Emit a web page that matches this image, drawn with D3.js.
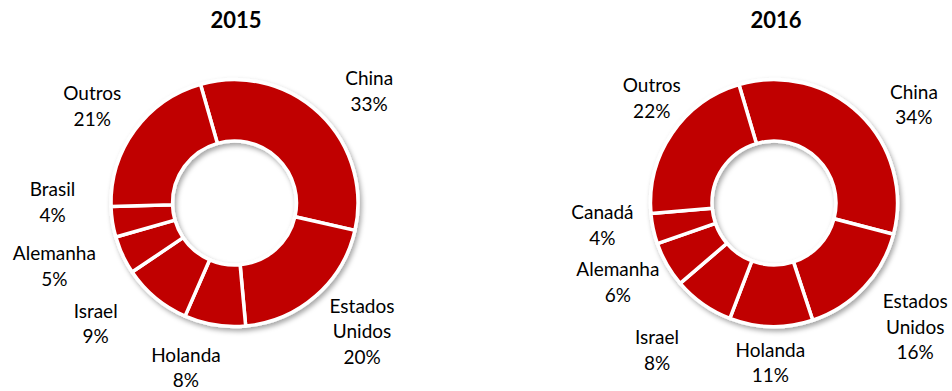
<!DOCTYPE html>
<html>
<head>
<meta charset="utf-8">
<script src="https://cdn.jsdelivr.net/npm/d3@7"></script>
<style>
  body { margin: 0; background: #fff; }
  svg { display: block; font-family: Lato, "Noto Sans", sans-serif; }
</style>
</head>
<body>
<svg id="chart" width="952" height="391"></svg>
<script>
// data
var years = ["2015", "2016"];
var categories2015 = ["China", "Estados Unidos", "Holanda", "Israel", "Alemanha", "Brasil", "Outros"];
var values2015 = [33, 20, 8, 9, 5, 4, 21];
var categories2016 = ["China", "Estados Unidos", "Holanda", "Israel", "Alemanha", "Canadá", "Outros"];
var values2016 = [34, 16, 11, 8, 6, 4, 22];

// layout (label nudges: degrees off slice middle, radius)
var layout = [
    { cx: 234.5, cy: 203, start: -16, titleX: 236,
      labels: [[6.9, 175], [-3.6, 181], [7.2, 172], [9.2, 184], [5.6, 191], [9.1, 182], [-2, 172]] },
    { cx: 774, cy: 203, start: -16.5, titleX: 776,
      labels: [[10.8, 171], [-1.9, 188], [0, 160], [3.3, 188], [3, 175], [4.7, 173], [6.3, 161]] }
];
var color = "#c00000";
var format = d3.format(".0%");
var rad = Math.PI / 180;

var svg = d3.select("#chart");

var defs = svg.append("defs");
var f = defs.append("filter").attr("id", "shadow")
    .attr("x", "-20%").attr("y", "-20%").attr("width", "140%").attr("height", "140%");
f.append("feDropShadow")
    .attr("dx", 2).attr("dy", 3).attr("stdDeviation", 2.5)
    .attr("flood-color", "#000").attr("flood-opacity", 0.35);

var arc = d3.arc().innerRadius(62).outerRadius(123.5);

function drawDonut(i, cats, vals) {
    var lay = layout[i];
    var pie = d3.pie().sort(null)
        .startAngle(lay.start * rad)
        .endAngle((lay.start + 360) * rad);
    var rows = cats.map(function (c, k) { return { name: c, value: vals[k] }; });
    var arcs = pie.value(function (d) { return d.value; })(rows);

    svg.append("text")
        .attr("x", lay.titleX).attr("y", 28)
        .attr("text-anchor", "middle")
        .style("font-size", "22px").style("font-weight", "bold")
        .text(years[i]);

    var g = svg.append("g")
        .attr("transform", "translate(" + lay.cx + "," + lay.cy + ")");

    g.append("g").attr("filter", "url(#shadow)")
        .selectAll("path").data(arcs).enter().append("path")
        .attr("d", arc)
        .style("fill", color)
        .style("stroke", "#fff")
        .style("stroke-width", 3.5)
        .style("stroke-linejoin", "round");

    var lg = g.append("g");
    arcs.forEach(function (d, k) {
        var nudge = lay.labels[k];
        var a = (d.startAngle + d.endAngle) / 2 + nudge[0] * rad;
        var x = Math.sin(a) * nudge[1];
        var y = -Math.cos(a) * nudge[1];
        var lines = d.data.name.split(" ").concat([format(d.data.value / 100)]);
        var t = lg.append("text")
            .attr("text-anchor", "middle")
            .style("font-size", "19px")
            .style("fill", "#000");
        var lh = 25.5;
        var top = y - (lines.length - 1) * lh / 2;
        lines.forEach(function (s, j) {
            t.append("tspan")
                .attr("x", x)
                .attr("y", top + j * lh + 6.7)
                .text(s);
        });
    });
}

drawDonut(0, categories2015, values2015);
drawDonut(1, categories2016, values2016);
</script>
</body>
</html>
